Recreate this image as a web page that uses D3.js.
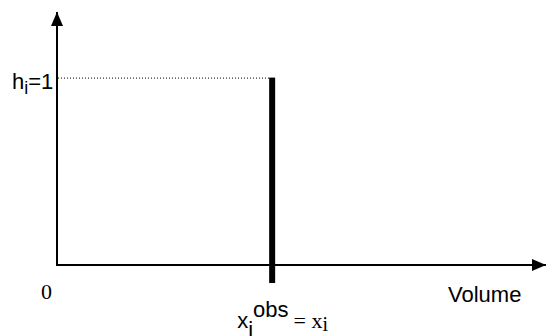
<!DOCTYPE html>
<html>
<head>
<meta charset="utf-8">
<script src="https://cdn.jsdelivr.net/npm/d3@7"></script>
<style>
  html, body { margin: 0; padding: 0; background: #fff; }
  svg { display: block; }
</style>
</head>
<body>
<div id="chart"></div>
<script>
// Data: one observation at x_i^obs with height h_i = 1
const obsPositions = [4.4];
const obsHeights = [1];
const xDomain = [0, 10];
const yDomain = [0, 1.35];
const originLabel = '0';
const xAxisTitle = 'Volume';

const W = 547, H = 336;
const svg = d3.select('#chart').append('svg')
    .attr('width', W)
    .attr('height', H);

const x = d3.scaleLinear().domain(xDomain).range([57, 546]);
const y = d3.scaleLinear().domain(yDomain).range([265, 12]);

// Arrow head
svg.append('defs').append('marker')
    .attr('id', 'arrow')
    .attr('viewBox', '0 0 14 12')
    .attr('refX', 14).attr('refY', 6)
    .attr('markerUnits', 'userSpaceOnUse')
    .attr('markerWidth', 14).attr('markerHeight', 12)
    .attr('orient', 'auto')
    .append('path')
    .attr('d', 'M0,0 L14,6 L0,12 Z')
    .attr('fill', '#000');

// Dotted guide from y axis to top of bar
svg.selectAll('.guide')
    .data(obsHeights)
    .enter().append('line')
    .attr('class', 'guide')
    .attr('x1', x(0) + 1)
    .attr('x2', (d, i) => x(obsPositions[i]) - 3)
    .attr('y1', d => y(d) + 0.5)
    .attr('y2', d => y(d) + 0.5)
    .attr('stroke', '#000')
    .attr('stroke-width', 1)
    .attr('stroke-dasharray', '1,2');

// Axes
svg.append('line')
    .attr('x1', x(0)).attr('y1', y(0) + 1)
    .attr('x2', x(0)).attr('y2', y(yDomain[1]))
    .attr('stroke', '#000').attr('stroke-width', 2)
    .attr('marker-end', 'url(#arrow)');

svg.append('line')
    .attr('x1', x(0) - 1).attr('y1', y(0))
    .attr('x2', x(xDomain[1])).attr('y2', y(0))
    .attr('stroke', '#000').attr('stroke-width', 2)
    .attr('marker-end', 'url(#arrow)');

// Bar (spike) - dips a little below the axis as in the original
svg.selectAll('.bar')
    .data(obsHeights)
    .enter().append('rect')
    .attr('class', 'bar')
    .attr('x', (d, i) => x(obsPositions[i]) - 3)
    .attr('width', 6)
    .attr('y', d => y(d))
    .attr('height', d => y(0) - y(d) + 18)
    .attr('fill', '#000');

// Labels
const sans = 'Arial, "Liberation Sans", sans-serif';
const serif = '"Times New Roman", "Liberation Serif", serif';

const hLab = svg.append('text')
    .attr('x', 12).attr('y', 89)
    .style('font-family', sans).style('font-size', '22px');
hLab.append('tspan').text('h');
hLab.append('tspan').attr('font-size', '18px').attr('dy', 5).text('i');
hLab.append('tspan').attr('dy', -5).text('=1');

svg.append('text')
    .attr('x', 41).attr('y', 299)
    .style('font-family', serif).style('font-size', '22px')
    .text(originLabel);

svg.append('text')
    .attr('x', 448).attr('y', 302)
    .style('font-family', sans).style('font-size', '22px')
    .text(xAxisTitle);

const x0 = x(obsPositions[0]) - 35;
const xLab = svg.append('text')
    .attr('x', x0).attr('y', 328)
    .style('font-family', sans).style('font-size', '22px');
xLab.append('tspan').text('x');
xLab.append('tspan').attr('dy', 9).attr('dx', 0).text('i');
xLab.append('tspan').attr('dy', -20).attr('dx', 0).text('obs');
xLab.append('tspan').attr('dy', 11).attr('dx', 5)
    .style('font-family', serif).style('font-size', '22px').text('= x');
xLab.append('tspan').attr('dy', 3)
    .style('font-family', serif).style('font-size', '20px').text('i');
</script>
</body>
</html>
